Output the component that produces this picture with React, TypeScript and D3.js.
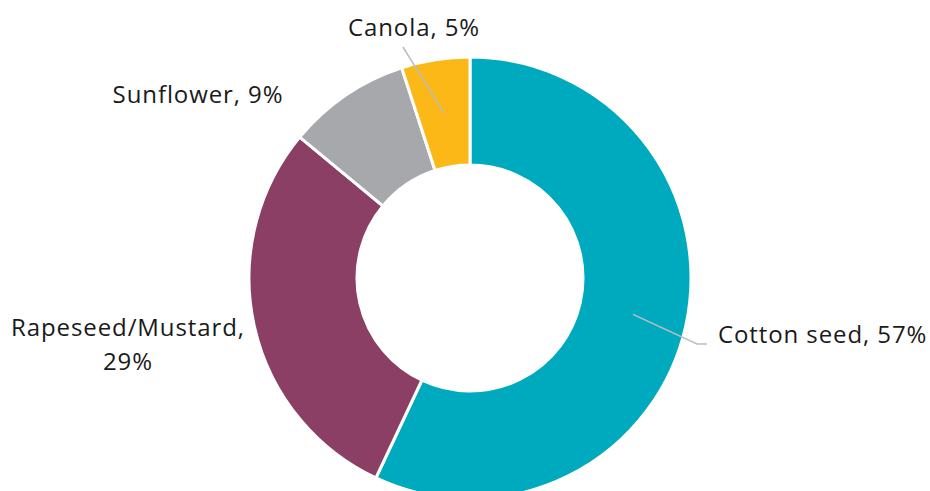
import React from "react";
import * as d3 from "d3";

const categories = ["Cotton seed", "Rapeseed/Mustard", "Sunflower", "Canola"];
const values = [57, 29, 9, 5];
const colors = ["#00AABE", "#8C3F64", "#A7A8AB", "#FBB817"];

// label text lines
const labelLines: string[][] = [
  ["Cotton seed, 57%"],
  ["Rapeseed/Mustard,", "29%"],
  ["Sunflower, 9%"],
  ["Canola, 5%"],
];

const W = 930;
const H = 491;
const cx = 470;
const cy = 278;
const outerR = 221;
const innerR = 113;

export default function App() {
  const pie = d3
    .pie<number>()
    .value((d) => d)
    .sort(null)
    .startAngle(0)
    .endAngle(2 * Math.PI);
  const arcs = pie(values);
  const arc = d3
    .arc<d3.PieArcDatum<number>>()
    .innerRadius(innerR)
    .outerRadius(outerR);

  const midR = (innerR + outerR) / 2;
  const pt = (a: number, r: number) => [Math.sin(a) * r, -Math.cos(a) * r];

  const cottonMid = (arcs[0].startAngle + arcs[0].endAngle) / 2;
  const canolaMid = (arcs[3].startAngle + arcs[3].endAngle) / 2;
  const cottonStart = pt(cottonMid, midR);
  const canolaStart = pt(canolaMid, midR);

  const font = "'Open Sans', sans-serif";
  const fs = 24;
  const ls = 0.9;

  return (
    <svg
      width={W}
      height={H}
      style={{ position: "absolute", left: 0, top: 0, background: "#fff" }}
    >
      <g transform={`translate(${cx},${cy})`}>
        {arcs.map((a, i) => (
          <path
            key={categories[i]}
            d={arc(a) || ""}
            fill={colors[i]}
            stroke="#fff"
            strokeWidth={3}
          />
        ))}
        <polyline
          points={`${cottonStart[0]},${cottonStart[1]} 227,66 237,66`}
          fill="none"
          stroke="#BDBDBD"
          strokeWidth={1.5}
        />
        <polyline
          points={`${canolaStart[0]},${canolaStart[1]} -67,-231`}
          fill="none"
          stroke="#BDBDBD"
          strokeWidth={1.5}
        />
      </g>
      <g fontFamily={font} fontSize={fs} fill="#1a1a1a" letterSpacing={ls}>
        <text x={718} y={343} textAnchor="start">
          {labelLines[0][0]}
        </text>
        <text x={128} y={336} textAnchor="middle">
          {labelLines[1][0]}
        </text>
        <text x={128} y={369.5} textAnchor="middle">
          {labelLines[1][1]}
        </text>
        <text x={198} y={103} textAnchor="middle">
          {labelLines[2][0]}
        </text>
        <text x={414} y={36} textAnchor="middle">
          {labelLines[3][0]}
        </text>
      </g>
    </svg>
  );
}
